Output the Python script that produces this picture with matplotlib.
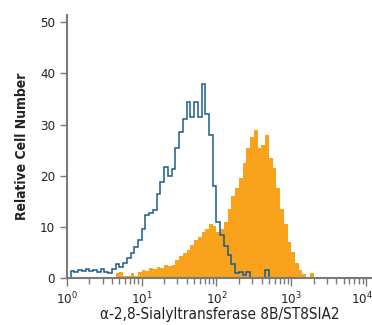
import numpy as np
import matplotlib
matplotlib.use("Agg")
import matplotlib.pyplot as plt
import matplotlib.transforms as mtransforms
from matplotlib.ticker import LogLocator, NullFormatter

plt.rcParams['font.family'] = ['DejaVu Sans']
plt.rcParams['font.stretch'] = 'condensed'
plt.rcParams['mathtext.fontset'] = 'custom'
plt.rcParams['mathtext.rm'] = 'DejaVu Sans:stretch=condensed'

# log10 bin starts and width (decades)
control_start = 0.05
sample_start = 0.65
bin_width = 0.05

control_counts = [1.4, 1.2, 1.6, 1.3, 1.8, 1.3, 1.5, 1.2, 1.7, 1.1,
                  1.0, 1.8, 2.8, 2.2, 3.0, 4.0, 4.8, 6.0, 7.5, 9.5,
                  12.3, 12.8, 13.3, 16.5, 18.8, 21.7, 20.0, 21.3, 25.5, 28.5,
                  31.0, 34.5, 31.5, 34.5, 31.5, 38.0, 32.0, 28.0, 18.0, 11.0,
                  8.5, 6.2, 4.5, 2.8, 1.0, 1.2, 0.6, 1.2, 0.0, 0.0,
                  0.0, 0.0, 1.5, 0.0]

sample_counts = [1.0, 1.2, 0.4, 0.3, 1.0, 0.3, 1.2, 1.5, 1.3, 2.0,
                 1.8, 2.2, 2.0, 2.6, 2.4, 2.6, 3.5, 4.3, 4.8, 5.5,
                 6.5, 7.5, 8.0, 9.0, 9.5, 10.5, 10.2, 9.0, 9.5, 11.0,
                 13.5, 16.0, 17.5, 19.5, 22.5, 25.5, 27.5, 29.0, 25.5, 26.0,
                 28.0, 23.5, 21.5, 17.5, 13.5, 10.5, 7.0, 5.0, 3.0, 1.5,
                 0.7, 0.0, 1.0, 0.0]

y_ticks = [0, 10, 20, 30, 40, 50]
x_ticks = [1, 10, 100, 1000, 10000]
x_tick_labels = [r'$10^{0}$', r'$10^{1}$', r'$10^{2}$', r'$10^{3}$', r'$10^{4}$']
x_label = 'α-2,8-Sialyltransferase 8B/ST8SIA2'
y_label = 'Relative Cell Number'

ctrl_edges = 10 ** (control_start + bin_width * np.arange(len(control_counts) + 1))
samp_edges = 10 ** (sample_start + bin_width * np.arange(len(sample_counts) + 1))

fig = plt.figure(figsize=(3.72, 3.25), dpi=100)
ax = fig.add_axes([0.180, 0.1446, 0.820, 0.809])

ax.stairs(sample_counts, samp_edges, fill=True, color='#F9A21B', linewidth=0)
ax.stairs(control_counts, ctrl_edges, fill=False, color='#1B5C8A', linewidth=1.1)

ax.set_xscale('log')
ax.set_xlim(1, 10 ** 4.08)
ax.set_ylim(0, 51.4)

ax.set_xticks(x_ticks)
ax.set_xticklabels(x_tick_labels)
ax.xaxis.set_minor_locator(LogLocator(base=10, subs=np.arange(2, 10), numticks=20))
ax.xaxis.set_minor_formatter(NullFormatter())
ax.set_yticks(y_ticks)

spine_col = '#7a7a7a'
for s in ['top', 'right']:
    ax.spines[s].set_visible(False)
for s in ['left', 'bottom']:
    ax.spines[s].set_color(spine_col)
    ax.spines[s].set_linewidth(1.5)

ax.tick_params(axis='both', which='major', colors=spine_col, labelcolor='#222222',
               labelsize=9.5, length=5, width=1)
ax.tick_params(axis='x', which='minor', colors=spine_col, length=4, width=1)
ax.tick_params(axis='x', which='major', length=6, pad=3)

# keep the last tick label inside the figure
last = ax.get_xticklabels()[-1]
last.set_transform(last.get_transform() + mtransforms.ScaledTranslation(-4 / 100, 0, fig.dpi_scale_trans))

ax.set_xlabel(x_label, fontsize=11, color='#222222', labelpad=0)
ax.set_ylabel(y_label, fontsize=10, fontweight='bold', color='#222222', labelpad=8)

fig.savefig('out.png', dpi=100)
